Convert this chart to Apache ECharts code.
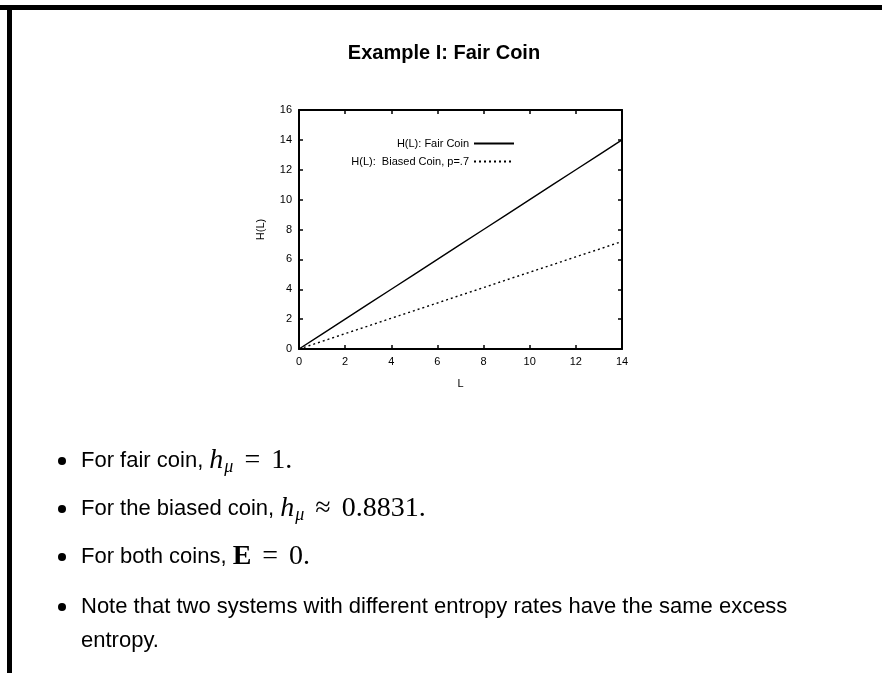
<!DOCTYPE html>
<html>
<head>
<meta charset="utf-8">
<script src="https://cdn.jsdelivr.net/npm/echarts@6/dist/echarts.min.js"></script>
<style>
  html, body { margin: 0; padding: 0; background: #fff; }
  #chart { width: 882px; height: 673px; }
</style>
</head>
<body>
<div id="chart"></div>
<script>
// Block length L and block entropies H(L)
var blockLengths = [0, 1, 2, 3, 4, 5, 6, 7, 8, 9, 10, 11, 12, 13, 14];
var fairCoinH = [0, 1, 2, 3, 4, 5, 6, 7, 8, 9, 10, 11, 12, 13, 14];
var biasedCoinH = [0, 0.51, 1.03, 1.54, 2.06, 2.57, 3.08, 3.6, 4.11, 4.63, 5.14, 5.65, 6.17, 6.68, 7.2];

var seriesNames = ['H(L): Fair Coin', 'H(L):  Biased Coin, p=.7'];
var xTicks = { min: 0, max: 14, step: 2 };
var yTicks = { min: 0, max: 16, step: 2 };

var titleText = 'Example I: Fair Coin';
var bulletLines = [
  [['t', 'For fair coin, '], ['mi', 'h'], ['sub', 'μ'], ['op', '='], ['m', '1.']],
  [['t', 'For the biased coin, '], ['mi', 'h'], ['sub', 'μ'], ['op', '≈'], ['m', '0.8831.']],
  [['t', 'For both coins, '], ['mb', 'E'], ['op', '='], ['m', '0.']],
  [['t', 'Note that two systems with different entropy rates have the same excess']],
  [['t', 'entropy.']]
];
var bulletRows = [461, 509, 557, 607, 641];
var bulletShown = [true, true, true, true, false];

function pairs(xs, ys) {
  return xs.map(function (x, i) { return [x, ys[i]]; });
}

var sans = '"Liberation Sans", Arial, Helvetica, sans-serif';
var serif = '"Liberation Serif", "DejaVu Serif", serif';

var richStyles = {
  t: { fontFamily: sans, fontSize: 22, lineHeight: 30, fill: '#000' },
  mi: { fontFamily: serif, fontStyle: 'italic', fontSize: 28, lineHeight: 30, fill: '#000' },
  sub: { fontFamily: serif, fontStyle: 'italic', fontSize: 18, lineHeight: 15, verticalAlign: 'bottom', padding: [0, 0, 0, 1], fill: '#000' },
  op: { fontFamily: serif, fontSize: 28, lineHeight: 30, padding: [0, 11, 0, 11], fill: '#000' },
  m: { fontFamily: serif, fontSize: 28, lineHeight: 30, fill: '#000' },
  mb: { fontFamily: serif, fontWeight: 'bold', fontSize: 28, lineHeight: 30, fill: '#000' }
};

var graphics = [
  // slide frame
  { type: 'rect', shape: { x: 0, y: 5, width: 882, height: 5 }, style: { fill: '#000' }, silent: true },
  { type: 'rect', shape: { x: 7, y: 5, width: 5, height: 668 }, style: { fill: '#000' }, silent: true },
  // slide title
  { type: 'text', x: 444, y: 53, style: { text: titleText, font: 'bold 20px ' + sans, fill: '#000', textAlign: 'center', textVerticalAlign: 'middle' } }
];

bulletLines.forEach(function (parts, i) {
  var y = bulletRows[i];
  if (bulletShown[i]) {
    graphics.push({ type: 'circle', shape: { cx: 62, cy: y, r: 4 }, style: { fill: '#000' }, silent: true });
  }
  graphics.push({
    type: 'text', x: 81, y: y,
    style: {
      text: parts.map(function (p) { return '{' + p[0] + '|' + p[1] + '}'; }).join(''),
      rich: richStyles,
      textVerticalAlign: 'middle',
      textAlign: 'left'
    }
  });
});

var axisCommon = {
  axisLine: { show: true, onZero: false, lineStyle: { color: '#000', width: 2 } },
  axisTick: { show: true, inside: true, length: 4, lineStyle: { color: '#000', width: 1.5 } },
  splitLine: { show: false }
};

var chart = echarts.init(document.getElementById('chart'), null, { renderer: 'canvas' });
chart.setOption({
  backgroundColor: '#fff',
  animation: false,
  textStyle: { fontFamily: sans },
  grid: { left: 299, top: 110, width: 323, height: 239, containLabel: false },
  legend: {
    orient: 'vertical',
    align: 'right',
    right: 362,
    top: 133,
    itemWidth: 40,
    itemHeight: 8,
    itemGap: 7,
    itemStyle: { opacity: 0 },
    textStyle: { fontSize: 11, color: '#000', fontFamily: sans },
    data: seriesNames
  },
  xAxis: [
    Object.assign({
      type: 'value', position: 'bottom',
      min: xTicks.min, max: xTicks.max, interval: xTicks.step,
      name: 'L', nameLocation: 'middle', nameGap: 29,
      nameTextStyle: { fontSize: 11, color: '#000', fontFamily: sans },
      axisLabel: { fontSize: 11, color: '#000', margin: 7, fontFamily: sans }
    }, axisCommon),
    Object.assign({
      type: 'value', position: 'top',
      min: xTicks.min, max: xTicks.max, interval: xTicks.step,
      axisLabel: { show: false }
    }, axisCommon)
  ],
  yAxis: [
    Object.assign({
      type: 'value', position: 'left',
      min: yTicks.min, max: yTicks.max, interval: yTicks.step,
      name: 'H(L)', nameLocation: 'middle', nameGap: 33, nameRotate: 90,
      nameTextStyle: { fontSize: 11, color: '#000', fontFamily: sans },
      axisLabel: { fontSize: 11, color: '#000', margin: 7, fontFamily: sans }
    }, axisCommon),
    Object.assign({
      type: 'value', position: 'right',
      min: yTicks.min, max: yTicks.max, interval: yTicks.step,
      axisLabel: { show: false }
    }, axisCommon)
  ],
  series: [
    {
      name: seriesNames[0], type: 'line', xAxisIndex: 0, yAxisIndex: 0,
      data: pairs(blockLengths, fairCoinH),
      symbol: 'none', showSymbol: false,
      itemStyle: { color: '#000' },
      lineStyle: { color: '#000', width: 1.4, type: 'solid' }
    },
    {
      name: seriesNames[1], type: 'line', xAxisIndex: 0, yAxisIndex: 0,
      data: pairs(blockLengths, biasedCoinH),
      symbol: 'none', showSymbol: false,
      itemStyle: { color: '#000' },
      lineStyle: { color: '#000', width: 1.4, type: [2, 3] }
    }
  ],
  graphic: graphics
});
</script>
</body>
</html>
